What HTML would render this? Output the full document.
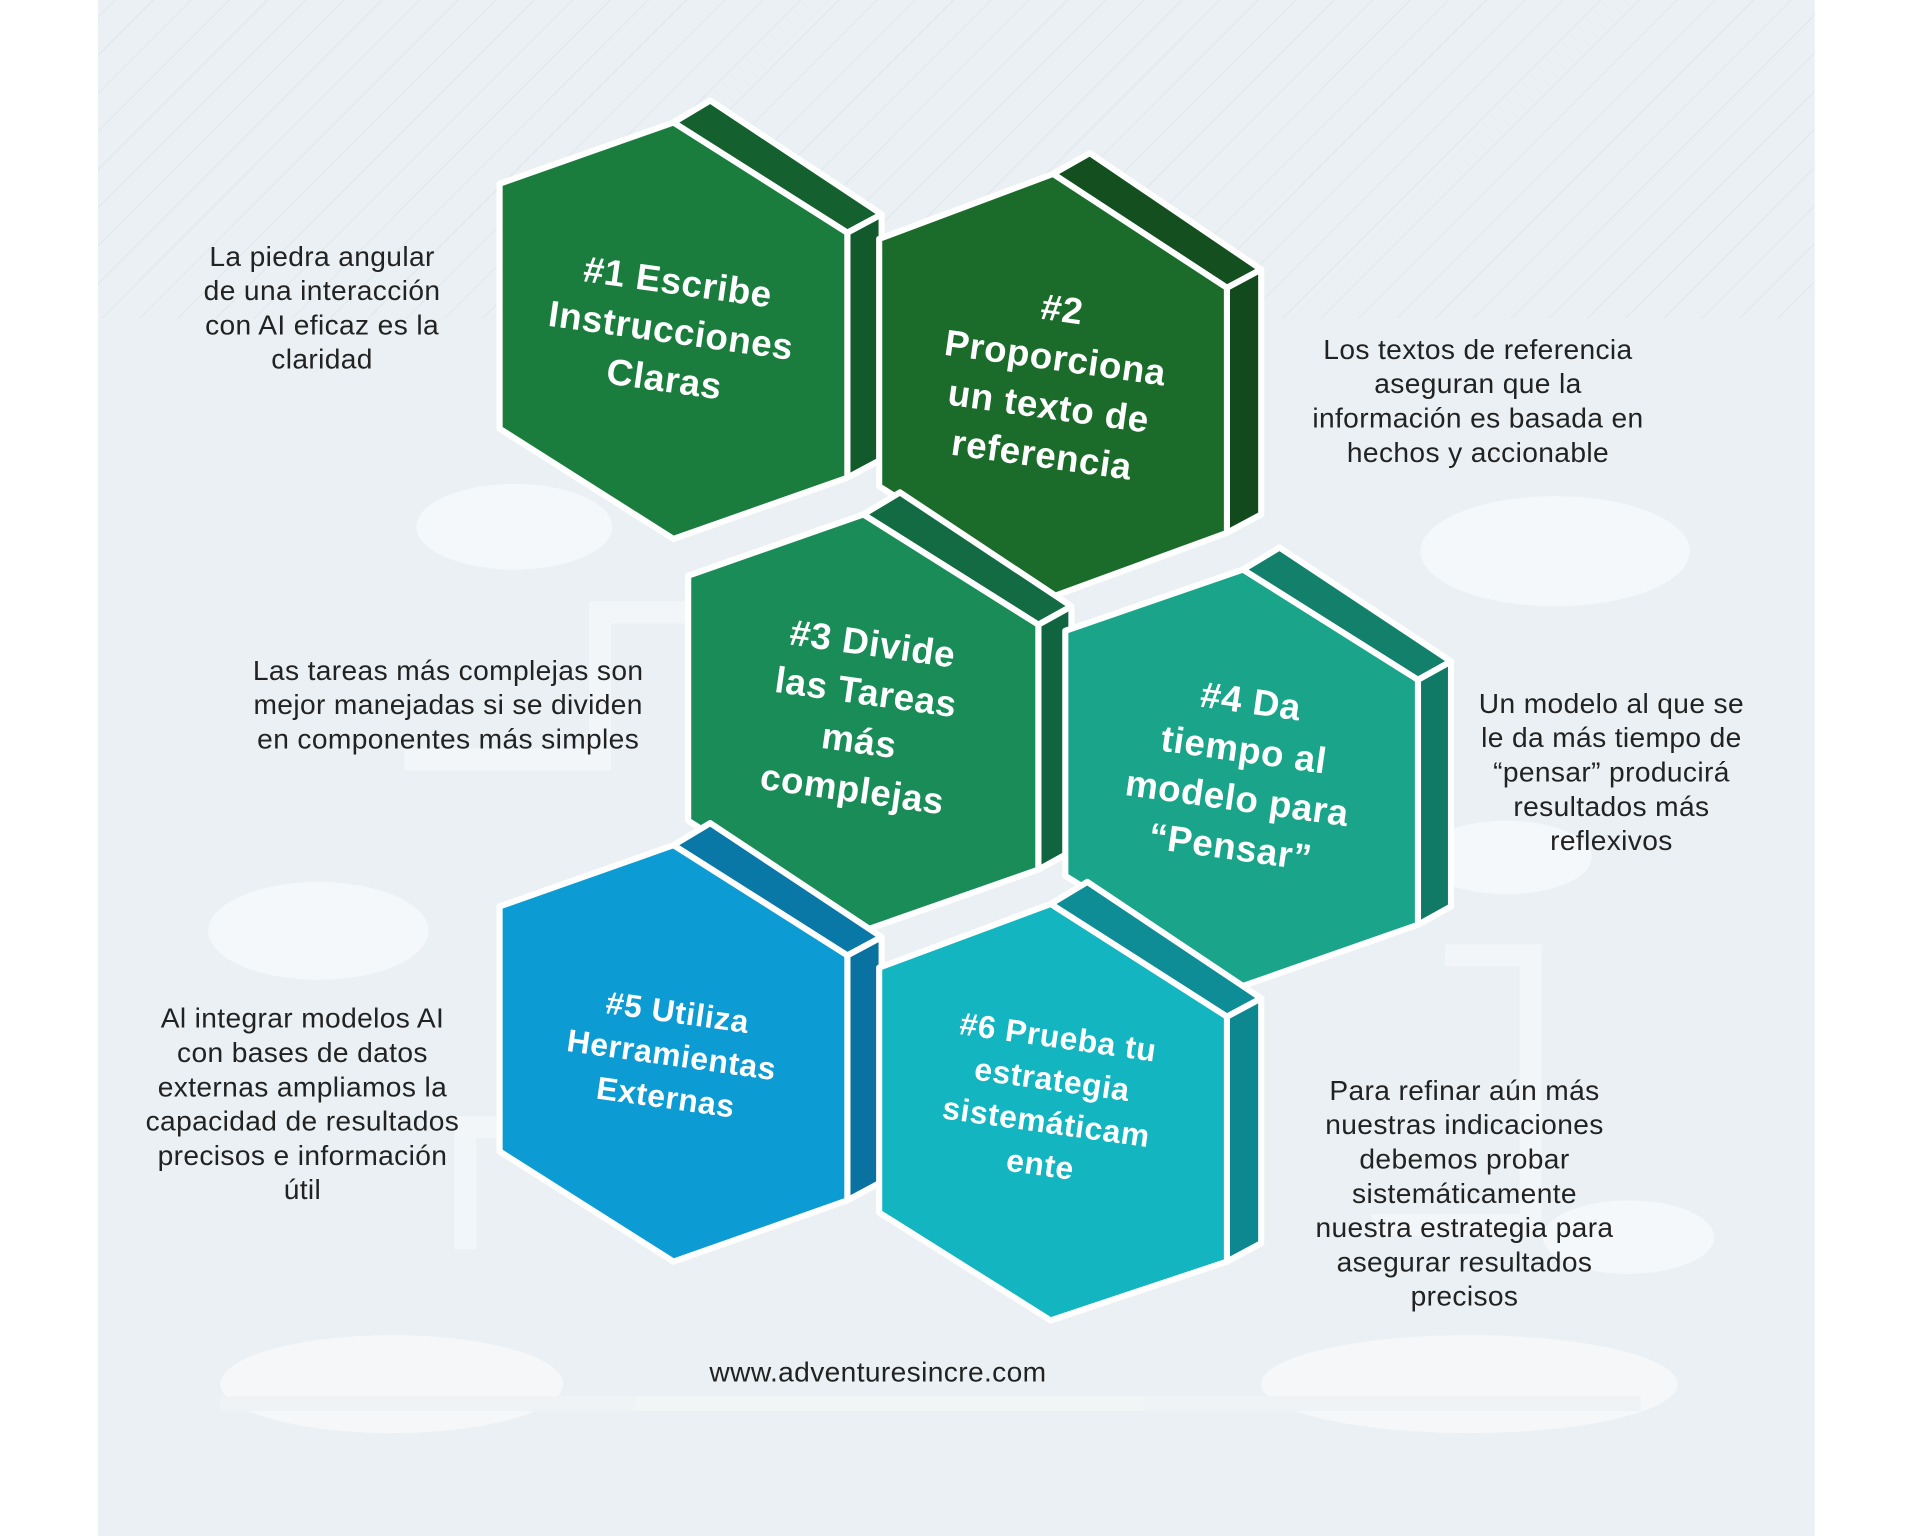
<!DOCTYPE html>
<html><head><meta charset="utf-8"><style>
html,body{margin:0;padding:0;background:#fff;}
svg{display:block;}
</style></head><body>
<svg width="1920" height="1536" viewBox="0 0 1568 1254" preserveAspectRatio="none" xmlns="http://www.w3.org/2000/svg">
<defs>
<pattern id="dg" width="22" height="22" patternUnits="userSpaceOnUse" patternTransform="rotate(45)">
<line x1="0" y1="0" x2="0" y2="22" stroke="#dde5ea" stroke-width="2"/>
</pattern>
</defs>
<rect x="0" y="0" width="1568" height="1254" fill="#fff"/>
<rect x="80" y="0" width="1402" height="1254" fill="#eaf0f3"/>
<rect x="80" y="0" width="1402" height="260" fill="url(#dg)" opacity="0.7"/>
<g fill="#f6f8fa" opacity="0.95">
<ellipse cx="1270" cy="450" rx="110" ry="45"/>
<ellipse cx="420" cy="430" rx="80" ry="35"/>
<ellipse cx="260" cy="760" rx="90" ry="40"/>
<ellipse cx="320" cy="1130" rx="140" ry="40"/>
<ellipse cx="1200" cy="1130" rx="170" ry="40"/>
<ellipse cx="1330" cy="1010" rx="70" ry="30"/>
<ellipse cx="1230" cy="700" rx="70" ry="30"/>
<rect x="180" y="1140" width="1160" height="12" fill="#f1f4f6"/>
</g>
<g stroke="#f6f8fa" stroke-width="18" fill="none" opacity="0.7">
<path d="M330 620 H490 V500 H560"/>
<path d="M380 1020 V920 H420"/>
<path d="M1180 780 H1250 V1000 H1120"/>
</g>

<g stroke="#fff" stroke-width="5" stroke-linejoin="round">
<polygon points="550,100 580,82 720,175 692,190" fill="#14602f"/>
<polygon points="692,190 720,175 720,375 692,390" fill="#125a2b"/>
<polygon points="550,100 692,190 692,390 550,440 408,350 408,150" fill="#1a7d3e"/>
<polygon points="860,142 890,125 1030,220 1002,235" fill="#134f1f"/>
<polygon points="1002,235 1030,220 1030,420 1002,435" fill="#124a1d"/>
<polygon points="860,142 1002,235 1002,435 860,487 718,397 718,195" fill="#1b6b2a"/>
<polygon points="705,420 735,402 875,495 848,510" fill="#126b42"/>
<polygon points="848,510 875,495 875,695 848,710" fill="#106540"/>
<polygon points="705,420 848,510 848,710 705,760 562,670 562,470" fill="#1a8c58"/>
<polygon points="1015,465 1045,447 1185,540 1158,555" fill="#12806a"/>
<polygon points="1158,555 1185,540 1185,740 1158,755" fill="#117a66"/>
<polygon points="1015,465 1158,555 1158,755 1015,805 870,715 870,515" fill="#1aa58a"/>
<polygon points="550,690 580,672 720,765 692,780" fill="#0a78a6"/>
<polygon points="692,780 720,765 720,965 692,980" fill="#0a72a0"/>
<polygon points="550,690 692,780 692,980 550,1030 408,940 408,740" fill="#0d9bd4"/>
<polygon points="858,738 888,720 1030,815 1002,830" fill="#0e8d96"/>
<polygon points="1002,830 1030,815 1030,1015 1002,1030" fill="#0d8891"/>
<polygon points="858,738 1002,830 1002,1030 858,1078 718,990 718,790" fill="#13b5c0"/>
</g>

<g font-family="Liberation Sans, sans-serif" font-weight="bold" fill="#fff" font-size="30" text-anchor="middle" letter-spacing="0.5">
<g transform="rotate(8 548 270)">
<text x="548" y="240">#1 Escribe</text>
<text x="548" y="280">Instrucciones</text>
<text x="548" y="320">Claras</text>
</g>
<g transform="rotate(8 858 320)">
<text x="858" y="262">#2</text>
<text x="858" y="302">Proporciona</text>
<text x="858" y="342">un texto de</text>
<text x="858" y="382">referencia</text>
</g>
<g transform="rotate(8 703 595)">
<text x="703" y="535">#3 Divide</text>
<text x="703" y="575">las Tareas</text>
<text x="703" y="615">más</text>
<text x="703" y="655">complejas</text>
</g>
<g transform="rotate(8 1012 640)">
<text x="1012" y="582">#4 Da</text>
<text x="1012" y="622">tiempo al</text>
<text x="1012" y="662">modelo para</text>
<text x="1012" y="702">“Pensar”</text>
</g>
<g font-size="26">
<g transform="rotate(8 548 865)">
<text x="548" y="835">#5 Utiliza</text>
<text x="548" y="870">Herramientas</text>
<text x="548" y="905">Externas</text>
</g>
<g transform="rotate(8 856 905)">
<text x="856" y="855">#6 Prueba tu</text>
<text x="856" y="890">estrategia</text>
<text x="856" y="925">sistemáticam</text>
<text x="856" y="960">ente</text>
</g>
</g>
</g>

<g font-family="Liberation Sans, sans-serif" fill="#222" font-size="23" text-anchor="middle" letter-spacing="0.3">
<text x="263" y="217">La piedra angular</text>
<text x="263" y="245">de una interacción</text>
<text x="263" y="273">con AI eficaz es la</text>
<text x="263" y="301">claridad</text>
<text x="1207" y="293">Los textos de referencia</text>
<text x="1207" y="321">aseguran que la</text>
<text x="1207" y="349">información es basada en</text>
<text x="1207" y="377">hechos y accionable</text>
<text x="366" y="555">Las tareas más complejas son</text>
<text x="366" y="583">mejor manejadas si se dividen</text>
<text x="366" y="611">en componentes más simples</text>
<text x="1316" y="582">Un modelo al que se</text>
<text x="1316" y="610">le da más tiempo de</text>
<text x="1316" y="638">“pensar” producirá</text>
<text x="1316" y="666">resultados más</text>
<text x="1316" y="694">reflexivos</text>
<text x="247" y="839">Al integrar modelos AI</text>
<text x="247" y="867">con bases de datos</text>
<text x="247" y="895">externas ampliamos la</text>
<text x="247" y="923">capacidad de resultados</text>
<text x="247" y="951">precisos e información</text>
<text x="247" y="979">útil</text>
<text x="1196" y="898">Para refinar aún más</text>
<text x="1196" y="926">nuestras indicaciones</text>
<text x="1196" y="954">debemos probar</text>
<text x="1196" y="982">sistemáticamente</text>
<text x="1196" y="1010">nuestra estrategia para</text>
<text x="1196" y="1038">asegurar resultados</text>
<text x="1196" y="1066">precisos</text>
<text x="717" y="1128">www.adventuresincre.com</text>
</g>
</svg>
</body></html>
